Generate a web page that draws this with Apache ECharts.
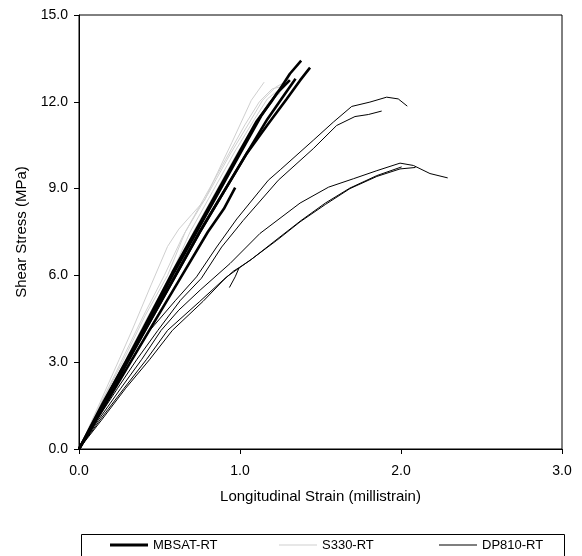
<!DOCTYPE html>
<html>
<head>
<meta charset="utf-8">
<script src="https://cdn.jsdelivr.net/npm/echarts@6/dist/echarts.min.js"></script>
<style>html,body{margin:0;padding:0;background:#fff;}#c{width:582px;height:556px;}</style>
</head>
<body>
<div id="c"></div>
<script>
// Axis ticks
const xTicks = [0.0, 1.0, 2.0, 3.0];
const yTicks = [0.0, 3.0, 6.0, 9.0, 12.0, 15.0];
const seriesNames = ['MBSAT-RT', 'S330-RT', 'DP810-RT'];

// MBSAT-RT curves [strain (millistrain), stress (MPa)]
const mbsat1 = [[0,0],[0.07,0.75],[0.15,1.6],[0.29,3.0],[0.44,4.6],[0.58,6.1],[0.72,7.5],[0.86,8.9],[1.0,10.3],[1.1,11.3],[1.2,12.05],[1.25,12.45],[1.31,12.97],[1.38,13.42]];
const mbsat2 = [[0,0],[0.08,0.75],[0.16,1.6],[0.3,3.0],[0.46,4.6],[0.6,6.0],[0.75,7.5],[0.9,8.9],[1.04,10.2],[1.17,11.2],[1.29,12.1],[1.373,12.74],[1.435,13.18]];
const mbsat3 = [[0,0],[0.15,1.55],[0.29,3.0],[0.45,4.6],[0.59,6.1],[0.73,7.5],[0.87,8.9],[1.01,10.3],[1.13,11.5],[1.23,12.3],[1.31,12.75]];
const mbsat4 = [[0,0],[0.16,1.55],[0.3,3.0],[0.46,4.6],[0.61,6.1],[0.75,7.5],[0.89,8.8],[1.04,10.2],[1.17,11.4],[1.27,12.2],[1.345,12.8]];
const mbsat5 = [[0,0],[0.16,1.5],[0.32,3.0],[0.49,4.6],[0.64,6.0],[0.8,7.5],[0.9,8.3],[0.97,9.03]];

// S330-RT curves
const s330_1 = [[0,0],[0.13,1.6],[0.25,3.1],[0.33,4.11],[0.45,5.7],[0.55,7.0],[0.62,7.6],[0.7,8.1],[0.78,8.6],[0.86,9.55],[0.95,10.6],[1.07,12.05],[1.15,12.68]];
const s330_2 = [[0,0],[0.13,1.5],[0.27,3.0],[0.41,4.6],[0.55,6.0],[0.66,7.5],[0.8,8.8],[0.94,10.2],[1.06,11.3],[1.14,12.05],[1.22,12.5],[1.3,12.75]];
const s330_3 = [[0,0],[0.14,1.5],[0.28,3.0],[0.43,4.6],[0.57,6.0],[0.69,7.5],[0.83,8.9],[0.97,10.3],[1.09,11.4],[1.17,12.1],[1.26,12.5]];
const s330_4 = [[0,0],[0.14,1.5],[0.28,3.0],[0.44,4.6],[0.58,6.1],[0.71,7.5],[0.85,8.9],[0.99,10.3],[1.1,11.3],[1.18,12.0],[1.25,12.3]];
const s330_5 = [[0,0],[0.12,1.4],[0.26,3.0],[0.4,4.6],[0.53,6.0],[0.64,7.3],[0.77,8.6],[0.91,10.0],[1.03,11.2],[1.12,12.0],[1.2,12.45],[1.28,12.55]];

// DP810-RT curves
const dp1 = [[0,0],[0.1,1.0],[0.22,2.1],[0.33,3.1],[0.44,4.1],[0.6,5.14],[0.73,5.95],[0.855,6.98],[0.98,7.95],[1.176,9.29],[1.25,9.65],[1.455,10.67],[1.58,11.3],[1.694,11.84],[1.807,11.99],[1.911,12.16],[1.983,12.1],[2.039,11.85]];
const dp2 = [[0,0],[0.11,1.0],[0.24,2.1],[0.36,3.1],[0.49,4.1],[0.63,5.14],[0.76,5.9],[0.886,6.98],[1.02,7.9],[1.238,9.29],[1.455,10.38],[1.6,11.18],[1.714,11.49],[1.797,11.56],[1.88,11.68]];
const dp3 = [[0,0],[0.12,1.0],[0.26,2.1],[0.39,3.1],[0.51,4.1],[0.62,4.8],[0.752,5.49],[0.938,6.41],[1.124,7.45],[1.373,8.5],[1.55,9.05],[1.704,9.34],[1.85,9.62],[1.994,9.88],[2.077,9.8],[2.18,9.52],[2.29,9.37]];
const dp4 = [[0,0],[0.13,1.0],[0.28,2.1],[0.42,3.1],[0.55,4.1],[0.75,5.1],[0.917,5.95],[1.062,6.52],[1.228,7.21],[1.373,7.85],[1.53,8.45],[1.683,9.0],[1.85,9.42],[1.994,9.68],[2.09,9.73]];
const dp5 = [[0,0],[0.14,1.0],[0.29,2.1],[0.44,3.1],[0.58,4.1],[0.77,5.1],[0.9,5.85],[0.96,6.15],[0.995,6.27]];
const dp6 = [[0.934,5.58],[0.97,5.95],[0.995,6.27],[1.07,6.55],[1.23,7.25],[1.38,7.9],[1.53,8.5],[1.683,9.02],[1.85,9.45],[2.004,9.75]];

const mbsatCurves = [mbsat1, mbsat2, mbsat3, mbsat4, mbsat5];
const s330Curves = [s330_1, s330_2, s330_3, s330_4, s330_5];
const dpCurves = [dp1, dp2, dp3, dp4, dp5, dp6];

const FONT = "'Liberation Sans', Arial, sans-serif";
const styles = {
  'MBSAT-RT': {color: '#000000', width: 2.6, legendH: 3},
  'S330-RT': {color: '#cfcfcf', width: 1, legendH: 1},
  'DP810-RT': {color: '#000000', width: 1, legendH: 1}
};

function mk(name, data) {
  return {
    type: 'line', name: name, data: data, symbol: 'none', smooth: false,
    showSymbol: false, animation: false, silent: true,
    lineStyle: {color: styles[name].color, width: styles[name].width},
    itemStyle: {color: styles[name].color}
  };
}

const series = [];
s330Curves.forEach(d => series.push(mk('S330-RT', d)));
dpCurves.forEach(d => series.push(mk('DP810-RT', d)));
mbsatCurves.forEach(d => series.push(mk('MBSAT-RT', d)));

const legendLefts = [110, 279, 439];
const legends = seriesNames.map((n, i) => ({
  show: true,
  left: legendLefts[i], top: 537, padding: 0,
  itemWidth: 38, itemHeight: styles[n].legendH, itemGap: 0,
  icon: 'rect',
  data: [n],
  selectedMode: false,
  textStyle: {fontFamily: FONT, fontSize: 13, color: '#000', lineHeight: 16}
}));

const chart = echarts.init(document.getElementById('c'), null, {renderer: 'canvas'});
chart.setOption({
  animation: false,
  backgroundColor: '#fff',
  grid: {left: 79, right: 20, top: 15, bottom: 107, show: true, borderColor: '#000', borderWidth: 1, backgroundColor: 'transparent'},
  legend: legends,
  xAxis: {
    type: 'value', min: xTicks[0], max: xTicks[xTicks.length - 1], interval: 1,
    name: 'Longitudinal Strain (millistrain)', nameLocation: 'middle', nameGap: 40,
    nameTextStyle: {fontFamily: FONT, fontSize: 15, color: '#000'},
    axisLine: {show: true, lineStyle: {color: '#000', width: 1}},
    axisTick: {show: true, length: 5, lineStyle: {color: '#000'}},
    axisLabel: {fontFamily: FONT, fontSize: 14, color: '#000', margin: 15, formatter: v => v.toFixed(1)},
    splitLine: {show: false}
  },
  yAxis: {
    type: 'value', min: yTicks[0], max: yTicks[yTicks.length - 1], interval: 3,
    name: 'Shear Stress (MPa)', nameLocation: 'middle', nameGap: 50,
    nameTextStyle: {fontFamily: FONT, fontSize: 15, color: '#000'},
    axisLine: {show: true, lineStyle: {color: '#000', width: 1}},
    axisTick: {show: true, length: 5, lineStyle: {color: '#000'}},
    axisLabel: {fontFamily: FONT, fontSize: 14, color: '#000', margin: 11, formatter: v => v.toFixed(1)},
    splitLine: {show: false}
  },
  graphic: [{
    type: 'rect', left: 79, top: 532, silent: true,
    shape: {width: 483, height: 40},
    style: {fill: 'none', stroke: '#000', lineWidth: 1}
  }],
  series: series
});
</script>
</body>
</html>
